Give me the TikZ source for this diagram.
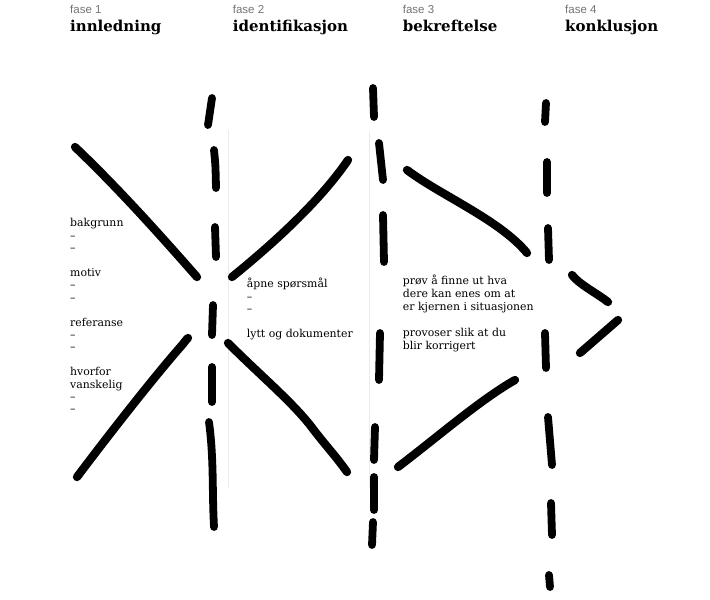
\documentclass[tikz,border=0pt]{standalone}
\usepackage{fontspec}
\newfontfamily\slab{DejaVu Serif}
\newfontfamily\grot{Liberation Sans}
\begin{document}
\begin{tikzpicture}[x=1pt,y=-1pt,
  brush/.style={line width=8.3pt,line cap=round,line join=round},
  dashseg/.style={line width=7.8pt,line cap=round},
  guide/.style={draw=black!8,line width=1pt},
  fase/.style={font=\grot\fontsize{11.5}{13}\selectfont,text=black!55,anchor=base west,inner sep=0pt},
  head/.style={font=\slab\bfseries\fontsize{15}{17}\selectfont,anchor=base west,inner sep=0pt},
  body/.style={font=\slab\fontsize{10.9}{12.4}\selectfont,align=left,anchor=north west,inner sep=0pt}]
\useasboundingbox (0,0) rectangle (710,600);
% guides
\draw[guide] (228,130) -- (228,488);
\draw[guide] (369,132) -- (369,488);
% headers
\node[fase] (f1) at (70,13.3) {fase 1};
\node[head] (h1) at (70,31.7) {innledning};
\node[fase] (f2) at (232.7,13.3) {fase 2};
\node[head] (h2) at (232.7,31.7) {identifikasjon};
\node[fase] (f3) at (402.7,13.3) {fase 3};
\node[head] (h3) at (402.7,31.7) {bekreftelse};
\node[fase] (f4) at (565,13.3) {fase 4};
\node[head] (h4) at (565,31.7) {konklusjon};
% body texts
\node[body] (t1) at (70,218.4) {bakgrunn\\–\\–\\[12.4pt]motiv\\–\\–\\[12.4pt]referanse\\–\\–\\[12.4pt]hvorfor\\vanskelig\\–\\–};
\node[body] (t2) at (246.7,278) {åpne spørsmål\\–\\–\\[12.4pt]lytt og dokumenter};
\node[body,font=\slab\fontsize{10.9}{13}\selectfont] (t3) at (402.7,274.6) {prøv å finne ut hva\\dere kan enes om at\\er kjernen i situasjonen\\[13pt]provoser slik at du\\blir korrigert};
% dashed line 1
\draw[dashseg] (212,98) -- (208,125);
\draw[dashseg] (214,150) .. controls (215.5,165) .. (216,188);
\draw[dashseg] (215,227) -- (216,257);
\draw[dashseg] (213,305) -- (212,335);
\draw[dashseg] (212,367) -- (212,402);
\draw[dashseg] (209,422) .. controls (214,460) and (212,490) .. (214,527);
% dashed line 2
\draw[dashseg] (373,88) -- (374,117);
\draw[dashseg] (379,143) -- (383,180);
\draw[dashseg] (383,215) -- (384,262);
\draw[dashseg] (380,333) -- (379,380);
\draw[dashseg] (375,427) -- (374,460);
\draw[dashseg] (374,477) -- (374,510);
\draw[dashseg] (373,522) -- (372,545);
% dashed line 3
\draw[dashseg] (546,103) -- (545,122);
\draw[dashseg] (547,162) -- (547,193);
\draw[dashseg] (548,228) -- (549,260);
\draw[dashseg] (545,333) -- (546,368);
\draw[dashseg] (548,417) -- (552,465);
\draw[dashseg] (551,503) -- (552,535);
\draw[dashseg] (549,575) -- (550,587);
% diagonal strokes
\draw[brush] (75,147) .. controls (120,190) and (160,235) .. (197,277);
\draw[brush] (77,477) .. controls (120,420) and (160,370) .. (183,344) .. controls (186,340) .. (188,338);
\draw[brush] (232,277) .. controls (280,238) and (322,198) .. (348,160);
\draw[brush] (228,343) .. controls (260,375) and (290,400) .. (310,425) .. controls (325,445) and (335,455) .. (347,472);
\draw[brush] (407,170) .. controls (440,195) and (500,220) .. (527,253);
\draw[brush] (398,467) .. controls (440,435) and (480,400) .. (515,380);
\draw[brush] (572,275) .. controls (580,285) and (595,292) .. (608,302);
\draw[brush] (580,353) -- (618,320);
\end{tikzpicture}
\end{document}
